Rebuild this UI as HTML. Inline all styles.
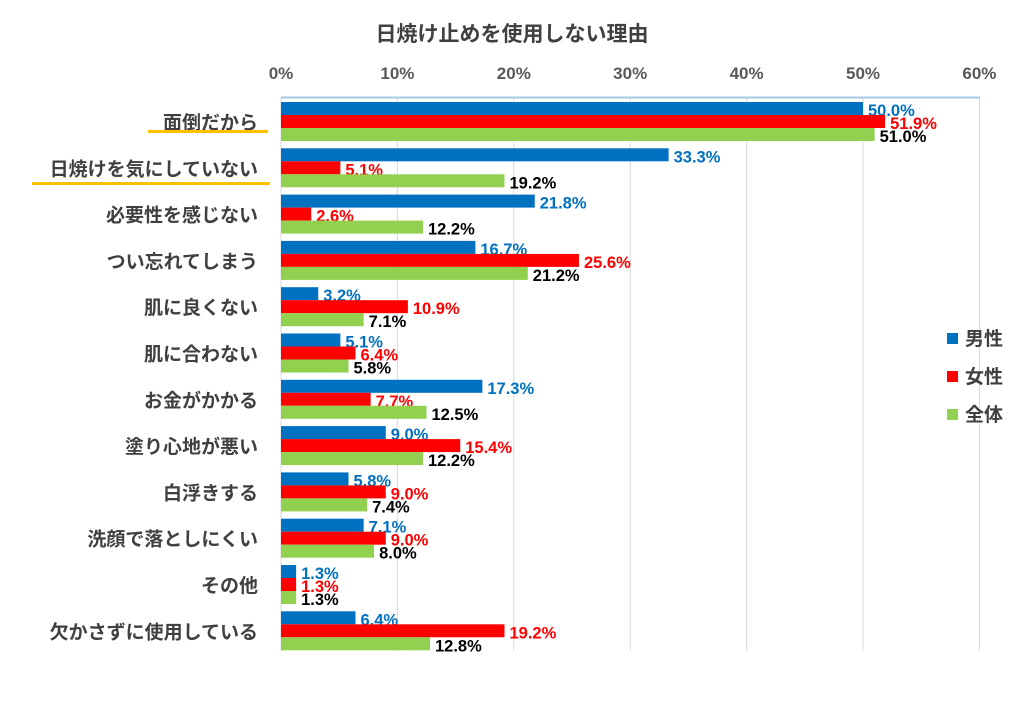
<!DOCTYPE html>
<html><head><meta charset="utf-8"><style>
body{margin:0;background:#fff}
text{font-family:"Liberation Sans","Noto Sans CJK JP",sans-serif;font-weight:bold}
</style></head><body>
<svg width="1024" height="700" xmlns="http://www.w3.org/2000/svg" id="s">
<text x="512" y="41" text-anchor="middle" font-size="21" fill="#404040">日焼け止めを使用しない理由</text>
<g id="g"></g>
</svg>
<script>
const cats=["面倒だから","日焼けを気にしていない","必要性を感じない","つい忘れてしまう","肌に良くない","肌に合わない","お金がかかる","塗り心地が悪い","白浮きする","洗顔で落としにくい","その他","欠かさずに使用している"];
const m=[50.0,33.3,21.8,16.7,3.2,5.1,17.3,9.0,5.8,7.1,1.3,6.4];
const f=[51.9,5.1,2.6,25.6,10.9,6.4,7.7,15.4,9.0,9.0,1.3,19.2];
const a=[51.0,19.2,12.2,21.2,7.1,5.8,12.5,12.2,7.4,8.0,1.3,12.8];
const x0=281,sc=11.64;let h='';
for(let i=0;i<=6;i++){const x=x0+i*10*sc;h+=`<line x1="${x}" y1="97" x2="${x}" y2="651" stroke="#d9d9d9" stroke-width="1"/>`;
h+=`<text x="${x}" y="79" text-anchor="middle" font-size="17" fill="#595959">${i*10}%</text>`;}
h+=`<line x1="${x0}" y1="97.5" x2="980" y2="97.5" stroke="#a9c8e6" stroke-width="2"/>`;
const cols=["#0070c0","#ff0000","#92d050"],tc=["#0070c0","#ff0000","#000"];
for(let i=0;i<12;i++){const t=102+i*46.3;
h+=`<text x="258" y="${t+27}" text-anchor="end" font-size="19" fill="#404040">${cats[i]}</text>`;
[m,f,a].forEach((d,k)=>{const y=t+k*13,w=d[i]*sc;
h+=`<rect x="${x0}" y="${y}" width="${w}" height="13" fill="${cols[k]}"/>`;
h+=`<text x="${x0+w+5}" y="${y+14}" font-size="16.5" fill="${tc[k]}">${d[i].toFixed(1)}%</text>`;});}
h+=`<rect x="148" y="130" width="120" height="3" fill="#ffc000"/><rect x="32" y="182" width="238" height="3" fill="#ffc000"/>`;
const L=["男性","女性","全体"];
L.forEach((l,k)=>{const y=340+k*38;h+=`<rect x="947" y="${y-7}" width="11" height="11" fill="${cols[k]}"/><text x="965" y="${y+5}" font-size="19" fill="#404040">${l}</text>`;});
document.getElementById('g').innerHTML=h;
</script>
</body></html>
